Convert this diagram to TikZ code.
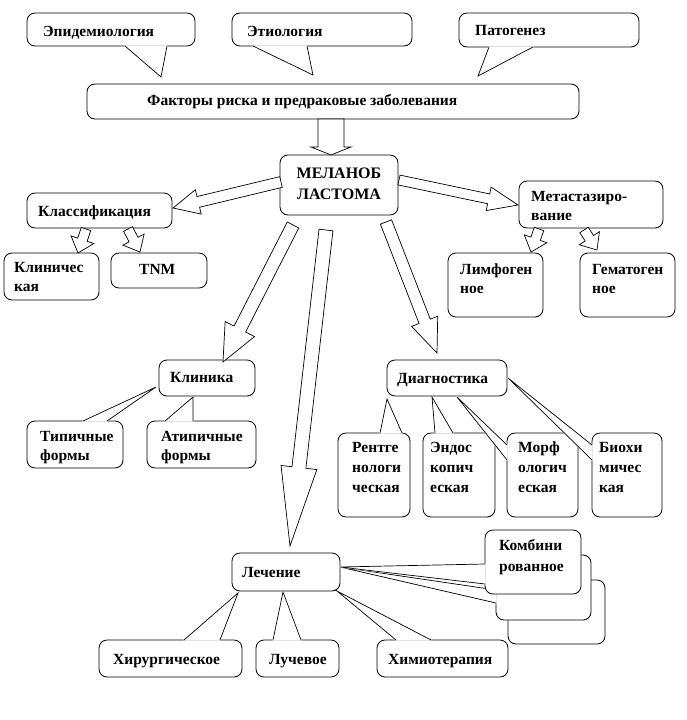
\documentclass[tikz,border=0pt]{standalone}
\usepackage{fontspec}
\setmainfont{Liberation Serif}
\usetikzlibrary{calc}
\tikzset{
  box/.style={draw, line width=0.8pt, rounded corners=8pt, fill=white, inner sep=0pt},
  txt/.style={inner sep=0pt, anchor=base west, font=\fontsize{15.5}{19}\selectfont\bfseries},
  barrow/.style={draw, line width=0.7pt, fill=white, line join=miter},
  ptr/.style={draw, line width=0.7pt},
  ptrfill/.style={fill=white, draw=white, line width=1.4pt, line join=round},
}
\newcommand\mlines[1]{\begin{tabular}[t]{@{}l@{}}#1\end{tabular}}
\newcommand\rbox[5]{\node[box, minimum width={(#4-#2)*1pt}, minimum height={(#5-#3)*1pt}] (#1) at ({(#2+#4)/2},{(#3+#5)/2}) {};}
\newcommand\blockarr[5]{%
  \coordinate (bac) at ($(#2)!#5!(#1)$);
  \path[barrow] ($(#1)!#3!90:(#2)$) -- ($(bac)!#3!-90:(#1)$) -- ($(bac)!#4!-90:(#1)$) -- (#2) -- ($(bac)!#4!90:(#1)$) -- ($(bac)!#3!90:(#1)$) -- ($(#1)!#3!-90:(#2)$) -- cycle;}
\newcommand\callptr[3]{%
  \path[ptrfill] (#1) -- (#2) -- (#3) -- cycle;
  \draw[ptr] (#1) -- (#2) -- (#3);}
\begin{document}
\begin{tikzpicture}[x=1pt,y=-1pt]
\useasboundingbox (0,0) rectangle (687,720);
\fill[white] (0,0) rectangle (687,720);

% ---- boxes ----
\rbox{epi}{27}{13}{195}{46}
\rbox{eti}{232}{13}{412}{46}
\rbox{pat}{459}{13}{639}{47}
\rbox{fak}{87}{84}{579}{119}
\rbox{mel}{280}{155}{398}{215}
\rbox{kla}{27}{193}{172}{228}
\rbox{kli}{4}{253}{99}{300}
\rbox{tnm}{111}{253}{207}{288}
\rbox{met}{519}{181}{663}{228}
\rbox{lim}{448}{253}{543}{317}
\rbox{gem}{580}{253}{675}{317}
\rbox{klin}{159}{360}{255}{396}
\rbox{typ}{27}{421}{123}{468}
\rbox{ati}{147}{421}{256}{468}
\rbox{dia}{387}{360}{507}{396}
\rbox{ren}{338}{433}{410}{517}
\rbox{endo}{423}{433}{495}{517}
\rbox{mor}{507}{433}{578}{517}
\rbox{bio}{592}{433}{662}{517}
\rbox{lec}{232}{553}{340}{591}
\rbox{kombC}{508}{580}{605}{644}
\rbox{kombB}{496}{555}{591}{620}
\coordinate (kbB1) at (496,590); \coordinate (kbB2) at (496,603); \coordinate (kbT) at (340,567);
\callptr{kbB1}{kbT}{kbB2}
\rbox{kombA}{485}{530}{581}{594}
\rbox{hir}{99}{640}{242}{677}
\rbox{luch}{256}{640}{339}{677}
\rbox{him}{377}{640}{508}{677}

% ---- callout pointers ----
\coordinate (epi1) at (125,46); \coordinate (epi2) at (167,46); \coordinate (epiP) at (161,77);
\coordinate (eti1) at (253,46); \coordinate (eti2) at (307,46); \coordinate (etiP) at (313,75);
\coordinate (pat1) at (489,47); \coordinate (pat2) at (533,47); \coordinate (patP) at (478,76);
\callptr{epi1}{epiP}{epi2}
\callptr{eti1}{etiP}{eti2}
\callptr{pat1}{patP}{pat2}

\coordinate (typ1) at (83,421); \coordinate (typ2) at (107,421); \coordinate (typP) at (156,387);
\coordinate (ati1) at (165,421); \coordinate (ati2) at (193,421); \coordinate (atiP) at (193,397);
\callptr{typ1}{typP}{typ2}
\callptr{ati1}{atiP}{ati2}

\coordinate (bio1) at (592,445); \coordinate (bio2) at (592,460); \coordinate (bioP) at (508,378);
\coordinate (mor1) at (507,445); \coordinate (mor2) at (507,460); \coordinate (morP) at (457,397);
\coordinate (ren1) at (380,433); \coordinate (ren2) at (402,433); \coordinate (renP) at (387,399);
\coordinate (endo1) at (435,433); \coordinate (endo2) at (453,433); \coordinate (endoP) at (432,397);
\callptr{bio1}{bioP}{bio2}
\callptr{mor1}{morP}{mor2}
\callptr{ren1}{renP}{ren2}
\callptr{endo1}{endoP}{endo2}

\coordinate (hir1) at (184,640); \coordinate (hir2) at (220,640); \coordinate (hirP) at (238,593);
\coordinate (luch1) at (273,640); \coordinate (luch2) at (301,640); \coordinate (luchP) at (283,592);
\coordinate (him1) at (396,640); \coordinate (him2) at (431,640); \coordinate (himP) at (337,591);
\coordinate (kbA1) at (485,564); \coordinate (kbA2) at (485,584);
\callptr{hir1}{hirP}{hir2}
\callptr{luch1}{luchP}{luch2}
\callptr{him1}{himP}{him2}
\callptr{kbA1}{kbT}{kbA2}

% ---- block arrows ----
\coordinate (a1s) at (331,119); \coordinate (a1e) at (331,155);
\coordinate (a2s) at (281,182); \coordinate (a2e) at (173,208);
\coordinate (a3s) at (399,180); \coordinate (a3e) at (518,205);
\coordinate (a4s) at (293,225); \coordinate (a4e) at (223,362);
\coordinate (a5s) at (326,230); \coordinate (a5e) at (290,546);
\coordinate (a6s) at (386,222); \coordinate (a6e) at (437,353);
\coordinate (a7s) at (86,229);  \coordinate (a7e) at (78,253);
\coordinate (a8s) at (128,229); \coordinate (a8e) at (140,252);
\coordinate (a9s) at (539,229); \coordinate (a9e) at (531,252);
\coordinate (a10s) at (584,230); \coordinate (a10e) at (597,250);
\blockarr{a1s}{a1e}{13pt}{20pt}{8pt}
\blockarr{a2s}{a2e}{5.5pt}{12.5pt}{26pt}
\blockarr{a3s}{a3e}{5pt}{12pt}{30pt}
\blockarr{a4s}{a4e}{6.5pt}{16.5pt}{37pt}
\blockarr{a5s}{a5e}{7pt}{18pt}{79pt}
\blockarr{a6s}{a6e}{6pt}{14pt}{34pt}
\blockarr{a7s}{a7e}{5pt}{12pt}{14pt}
\blockarr{a8s}{a8e}{5pt}{12pt}{14pt}
\blockarr{a9s}{a9e}{5pt}{12pt}{14pt}
\blockarr{a10s}{a10e}{5pt}{12pt}{14pt}

% ---- texts ----
\node[txt] (epiT) at (43,36.5) {Эпидемиология};
\node[txt] (etiT) at (247,36.5) {Этиология};
\node[txt] (patT) at (475,35.5) {Патогенез};
\node[txt] (fakT) at (147,105) {Факторы риска и предраковые заболевания};
\node[txt, anchor=base, font=\fontsize{16}{21}\selectfont\bfseries] (melT) at (339,178) {\begin{tabular}[t]{@{}c@{}}МЕЛАНОБ\\ЛАСТОМА\end{tabular}};
\node[txt] (klaT) at (38,216.5) {Классификация};
\node[txt] (kliT) at (14,272.5) {\mlines{Клиничес\\кая}};
\node[txt] (tnmT) at (139,274.5) {TNM};
\node[txt] (metT) at (531,201.5) {\mlines{Метастазиро-\\вание}};
\node[txt] (limT) at (460,274.5) {\mlines{Лимфоген\\ное}};
\node[txt] (gemT) at (592,274.5) {\mlines{Гематоген\\ное}};
\node[txt] (klinT) at (170,382.5) {Клиника};
\node[txt] (typT) at (40,441.5) {\mlines{Типичные\\формы}};
\node[txt] (atiT) at (161,441.5) {\mlines{Атипичные\\формы}};
\node[txt] (diaT) at (397,383.5) {Диагностика};
\node[txt] (renT) at (352,452.5) {\mlines{Рентге\\[1pt]нологи\\[1pt]ческая}};
\node[txt] (endoT) at (430,452.5) {\mlines{Эндос\\[1pt]копич\\[1pt]еская}};
\node[txt] (morT) at (518,452.5) {\mlines{Морф\\[1pt]ологич\\[1pt]еская}};
\node[txt] (bioT) at (599,452.5) {\mlines{Биохи\\[1pt]мичес\\[1pt]кая}};
\node[txt] (lecT) at (242,577) {Лечение};
\node[txt] (kombT) at (499,550.5) {\mlines{Комбини\\[2pt]рованное}};
\node[txt] (hirT) at (113,664.5) {Хирургическое};
\node[txt] (luchT) at (269,664.5) {Лучевое};
\node[txt] (himT) at (388,664.5) {Химиотерапия};
\end{tikzpicture}
\end{document}
